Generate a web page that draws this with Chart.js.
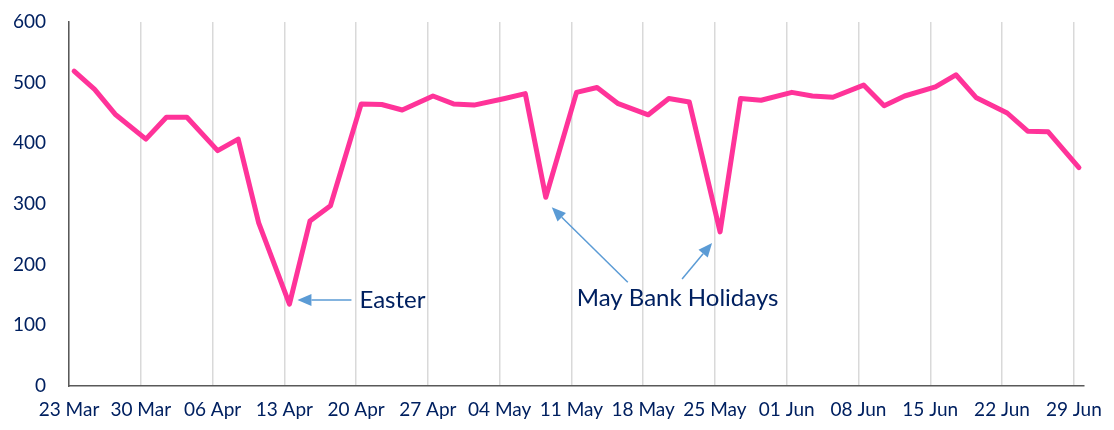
<!DOCTYPE html>
<html>
<head>
<meta charset="utf-8">
<script src="https://cdn.jsdelivr.net/npm/chart.js@4/dist/chart.umd.min.js"></script>
<style>
  html, body { margin: 0; padding: 0; background: #fff; }
  #wrap { width: 1114px; height: 430px; position: relative; }
</style>
</head>
<body>
<div id="wrap"><canvas id="chart"></canvas></div>
<script>
// Mon / Wed / Fri readings, 23 Mar - 29 Jun
const dates = [
  '2020-03-23','2020-03-25','2020-03-27','2020-03-30','2020-04-01','2020-04-03',
  '2020-04-06','2020-04-08','2020-04-10','2020-04-13','2020-04-15','2020-04-17',
  '2020-04-20','2020-04-22','2020-04-24','2020-04-27','2020-04-29','2020-05-01',
  '2020-05-04','2020-05-06','2020-05-08','2020-05-11','2020-05-13','2020-05-15',
  '2020-05-18','2020-05-20','2020-05-22','2020-05-25','2020-05-27','2020-05-29',
  '2020-06-01','2020-06-03','2020-06-05','2020-06-08','2020-06-10','2020-06-12',
  '2020-06-15','2020-06-17','2020-06-19','2020-06-22','2020-06-24','2020-06-26',
  '2020-06-29'
];
const values = [
  519, 489, 448, 407, 443, 443,
  388, 407, 269, 135, 272, 297,
  465, 464, 455, 478, 465, 463,
  474, 482, 311, 484, 492, 466,
  447, 474, 468, 254, 474, 471,
  484, 478, 476, 496, 462, 478,
  493, 513, 475, 450, 420, 419,
  360
];
const weekLabels = ['23 Mar','30 Mar','06 Apr','13 Apr','20 Apr','27 Apr','04 May',
  '11 May','18 May','25 May','01 Jun','08 Jun','15 Jun','22 Jun','29 Jun'];
const yTicks = [0, 100, 200, 300, 400, 500, 600];

// annotations: which point each arrow points at
const notes = [
  { text: 'Easter', date: '2020-04-13' },
  { text: 'May Bank Holidays', dates: ['2020-05-08', '2020-05-25'] }
];

const NAVY = '#002060';
const PINK = '#FF3399';
const ARROW = '#5B9BD5';
const FONT = 'Lato, "Liberation Sans", sans-serif';

const start = Date.parse(dates[0] + 'T00:00:00Z');
const dayOf = d => (Date.parse(d + 'T00:00:00Z') - start) / 86400000;
// points sit in the middle of their day, as on an Excel date axis
const points = dates.map((d, i) => ({ x: dayOf(d) + 0.5, y: values[i] }));

function arrow(ctx, x1, y1, x2, y2) {
  const a = Math.atan2(y2 - y1, x2 - x1);
  const len = 14, w = 6;
  const bx = x2 - Math.cos(a) * len, by = y2 - Math.sin(a) * len;
  ctx.beginPath(); ctx.moveTo(x1, y1); ctx.lineTo(bx, by); ctx.stroke();
  ctx.beginPath();
  ctx.moveTo(x2, y2);
  ctx.lineTo(bx + Math.sin(a) * w, by - Math.cos(a) * w);
  ctx.lineTo(bx - Math.sin(a) * w, by + Math.cos(a) * w);
  ctx.closePath(); ctx.fill();
}

const notePlugin = {
  id: 'notes',
  afterDatasetsDraw(chart) {
    const ctx = chart.ctx, xs = chart.scales.x, ys = chart.scales.y;
    const px = d => xs.getPixelForValue(dayOf(d) + 0.5);
    const py = d => ys.getPixelForValue(values[dates.indexOf(d)]);
    ctx.save();
    ctx.strokeStyle = ARROW; ctx.fillStyle = ARROW; ctx.lineWidth = 1.5;
    // Easter
    const ex = px(notes[0].date), ey = py(notes[0].date);
    arrow(ctx, ex + 62, ey - 4, ex + 8, ey - 4);
    // May bank holidays
    const m1x = px(notes[1].dates[0]), m1y = py(notes[1].dates[0]);
    const m2x = px(notes[1].dates[1]), m2y = py(notes[1].dates[1]);
    arrow(ctx, m1x + 82, m1y + 85, m1x + 6, m1y + 10);
    arrow(ctx, m2x - 38, m2y + 47, m2x - 8, m2y + 11);
    ctx.fillStyle = NAVY;
    ctx.font = '24px ' + FONT;
    ctx.textBaseline = 'middle';
    ctx.textAlign = 'left';
    ctx.fillText(notes[0].text, ex + 70, ey - 4);
    ctx.fillText(notes[1].text, m1x + 31, m1y + 101);
    ctx.restore();
  }
};

new Chart(document.getElementById('chart'), {
  type: 'line',
  data: {
    datasets: [{
      data: points,
      borderColor: PINK,
      borderWidth: 5,
      pointRadius: 0,
      tension: 0,
      borderJoinStyle: 'round',
      borderCapStyle: 'round'
    }]
  },
  options: {
    responsive: true,
    maintainAspectRatio: false,
    animation: false,
    layout: { padding: { top: 22, right: 25, left: 0, bottom: 0 } },
    plugins: { legend: { display: false }, tooltip: { enabled: false } },
    scales: {
      x: {
        type: 'linear',
        min: 0,
        max: 99,
        afterBuildTicks: s => { s.ticks = weekLabels.map((_, i) => ({ value: i * 7 })); },
        afterFit: s => { s.height = 44; },
        ticks: {
          autoSkip: false,
          maxRotation: 0,
          padding: 12,
          color: NAVY,
          font: { family: FONT, size: 19 },
          callback: (v, i) => weekLabels[i]
        },
        grid: { color: '#d9d9d9', lineWidth: 1.5, drawTicks: false },
        border: { color: '#595959', width: 1.5 }
      },
      y: {
        min: 0,
        max: 600,
        afterBuildTicks: s => { s.ticks = yTicks.map(v => ({ value: v })); },
        afterFit: s => { s.width = 69; },
        ticks: {
          padding: 0,
          color: NAVY,
          font: { family: FONT, size: 19 }
        },
        // tick length used only as label offset; grid itself is hidden
        grid: { display: false, drawTicks: true, tickLength: 23 },
        border: { color: '#595959', width: 1.5 }
      }
    }
  },
  plugins: [notePlugin]
});
</script>
</body>
</html>
